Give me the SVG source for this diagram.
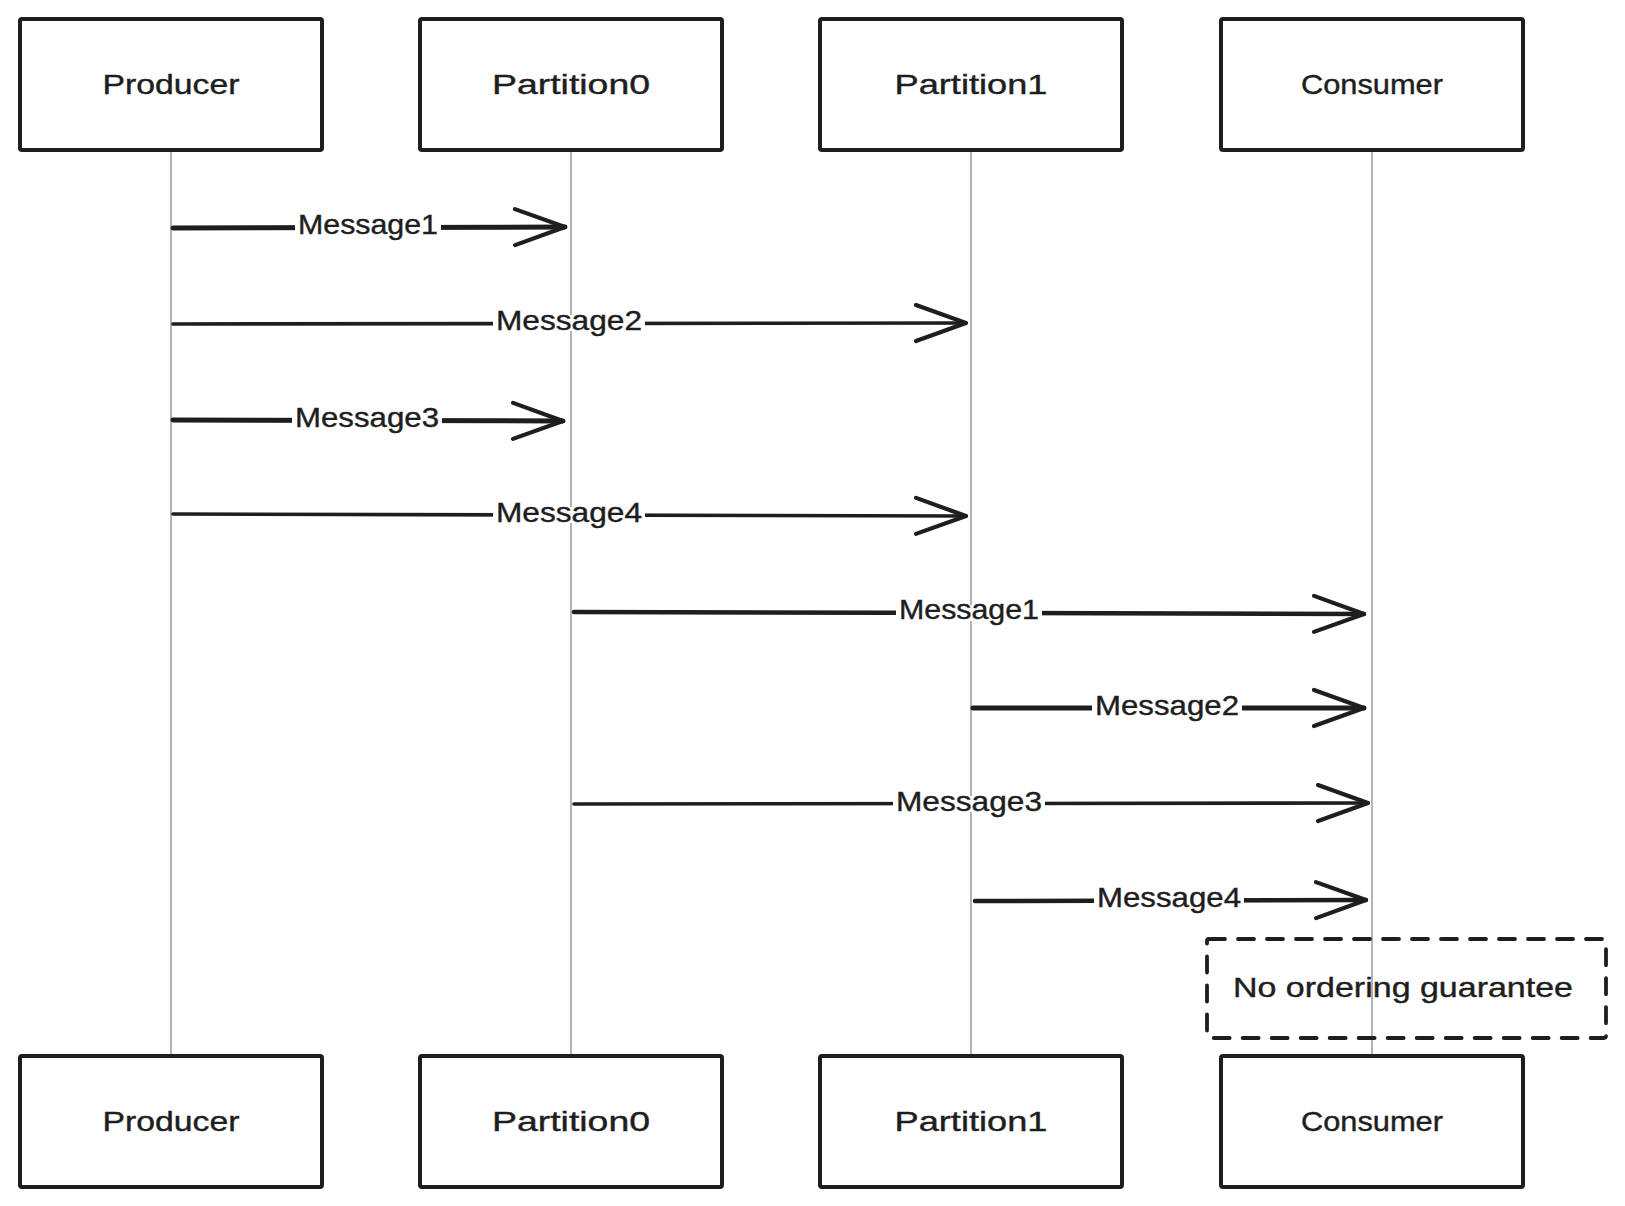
<svg xmlns="http://www.w3.org/2000/svg" width="1625" height="1206" viewBox="0 0 1625 1206">
  <defs>
    <style>
      .box { fill: #ffffff; stroke: #1e1e1e; stroke-width: 4; stroke-linejoin: round; }
      .lbl { font-family: "Liberation Sans", "DejaVu Sans", sans-serif; font-size: 28px; fill: #1e1e1e; text-anchor: middle; stroke: #1e1e1e; stroke-width: 0.4; }
      .life { stroke: #a0a0a0; stroke-width: 1.6; fill: none; }
      .msg { stroke: #1e1e1e; fill: none; stroke-linecap: round; marker-end: url(#arrow); }
      .bg { fill: #ffffff; }
      .note { fill: none; stroke: #1e1e1e; stroke-width: 3.8; stroke-dasharray: 16 13; stroke-linecap: round; }
    </style>
    <marker id="arrow" viewBox="-54 -22 58 44" markerWidth="58" markerHeight="44" refX="0" refY="0" orient="auto" markerUnits="userSpaceOnUse">
      <path d="M-50,-18 L0,0 L-50,18" fill="none" stroke="#1e1e1e" stroke-width="4.2" stroke-linecap="round" stroke-linejoin="round"/>
    </marker>
  </defs>
  <rect width="1625" height="1206" fill="#ffffff"/>

  <g id="lifelines">
    <line class="life" x1="171" y1="150" x2="171" y2="1056"/>
    <line class="life" x1="571" y1="150" x2="571" y2="1056"/>
    <line class="life" x1="971" y1="150" x2="971" y2="1056"/>
    <line class="life" x1="1372" y1="150" x2="1372" y2="1056"/>
  </g>

  <g id="node-producer-top">
    <rect class="box" x="20" y="19" width="302" height="131" rx="2"/>
    <text class="lbl" x="171" y="94" textLength="137" lengthAdjust="spacingAndGlyphs">Producer</text>
  </g>
  <g id="node-partition0-top">
    <rect class="box" x="420" y="19" width="302" height="131" rx="2"/>
    <text class="lbl" x="571" y="94" textLength="158" lengthAdjust="spacingAndGlyphs">Partition0</text>
  </g>
  <g id="node-partition1-top">
    <rect class="box" x="820" y="19" width="302" height="131" rx="2"/>
    <text class="lbl" x="971" y="94" textLength="153" lengthAdjust="spacingAndGlyphs">Partition1</text>
  </g>
  <g id="node-consumer-top">
    <rect class="box" x="1221" y="19" width="302" height="131" rx="2"/>
    <text class="lbl" x="1372" y="94" textLength="142" lengthAdjust="spacingAndGlyphs">Consumer</text>
  </g>

  <g id="node-producer-bottom">
    <rect class="box" x="20" y="1056" width="302" height="131" rx="2"/>
    <text class="lbl" x="171" y="1131" textLength="137" lengthAdjust="spacingAndGlyphs">Producer</text>
  </g>
  <g id="node-partition0-bottom">
    <rect class="box" x="420" y="1056" width="302" height="131" rx="2"/>
    <text class="lbl" x="571" y="1131" textLength="158" lengthAdjust="spacingAndGlyphs">Partition0</text>
  </g>
  <g id="node-partition1-bottom">
    <rect class="box" x="820" y="1056" width="302" height="131" rx="2"/>
    <text class="lbl" x="971" y="1131" textLength="153" lengthAdjust="spacingAndGlyphs">Partition1</text>
  </g>
  <g id="node-consumer-bottom">
    <rect class="box" x="1221" y="1056" width="302" height="131" rx="2"/>
    <text class="lbl" x="1372" y="1131" textLength="142" lengthAdjust="spacingAndGlyphs">Consumer</text>
  </g>

  <g id="connectors">
    <line class="msg" x1="173" y1="228" x2="565" y2="227" stroke-width="5"/>
    <rect class="bg" x="295" y="219" width="146" height="16"/>
    <text class="lbl" x="368" y="234" textLength="140" lengthAdjust="spacingAndGlyphs">Message1</text>

    <line class="msg" x1="173" y1="324" x2="966" y2="323" stroke-width="3.6"/>
    <rect class="bg" x="493" y="315" width="152" height="16"/>
    <text class="lbl" x="569" y="330" textLength="146" lengthAdjust="spacingAndGlyphs">Message2</text>

    <line class="msg" x1="173" y1="420" x2="563" y2="421" stroke-width="5"/>
    <rect class="bg" x="292" y="412" width="150" height="16"/>
    <text class="lbl" x="367" y="427" textLength="144" lengthAdjust="spacingAndGlyphs">Message3</text>

    <line class="msg" x1="173" y1="514" x2="966" y2="516" stroke-width="3.6"/>
    <rect class="bg" x="493" y="507" width="152" height="16"/>
    <text class="lbl" x="569" y="522" textLength="146" lengthAdjust="spacingAndGlyphs">Message4</text>

    <line class="msg" x1="574" y1="612" x2="1364" y2="614" stroke-width="4.5"/>
    <rect class="bg" x="896" y="605" width="146" height="16"/>
    <text class="lbl" x="969" y="619" textLength="140" lengthAdjust="spacingAndGlyphs">Message1</text>

    <line class="msg" x1="973" y1="708" x2="1364" y2="708" stroke-width="5"/>
    <rect class="bg" x="1092" y="700" width="150" height="16"/>
    <text class="lbl" x="1167" y="715" textLength="144" lengthAdjust="spacingAndGlyphs">Message2</text>

    <line class="msg" x1="574" y1="804" x2="1368" y2="803" stroke-width="3.6"/>
    <rect class="bg" x="893" y="796" width="152" height="16"/>
    <text class="lbl" x="969" y="811" textLength="146" lengthAdjust="spacingAndGlyphs">Message3</text>

    <line class="msg" x1="975" y1="901" x2="1366" y2="900" stroke-width="4.5"/>
    <rect class="bg" x="1094" y="893" width="150" height="16"/>
    <text class="lbl" x="1169" y="907" textLength="144" lengthAdjust="spacingAndGlyphs">Message4</text>
  </g>

  <g id="node-note">
    <rect class="note" x="1207" y="939" width="399" height="99" rx="2"/>
    <text class="lbl" x="1403" y="997" textLength="340" lengthAdjust="spacingAndGlyphs">No ordering guarantee</text>
  </g>
</svg>
